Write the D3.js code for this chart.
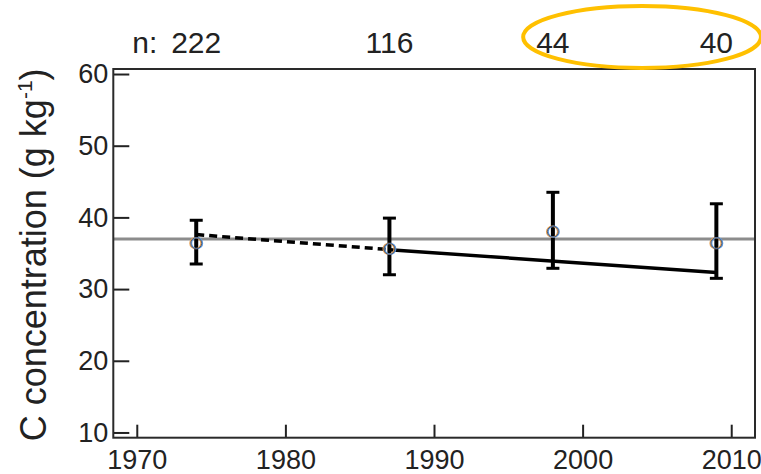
<!DOCTYPE html>
<html>
<head>
<meta charset="utf-8">
<script src="https://cdn.jsdelivr.net/npm/d3@7/dist/d3.min.js"></script>
<style>
  html, body { margin: 0; padding: 0; background: #fff; }
  svg { display: block; font-family: "Liberation Sans", Arial, sans-serif; }
</style>
</head>
<body>
<svg id="chart" width="761" height="474"></svg>
<script>
// Sampling years, sample counts and C concentration (g kg-1)
const years = [1974, 1987, 1998, 2009];
const counts = [222, 116, 44, 40];
const means = [36.4, 35.6, 38.0, 36.4];
const upper = [39.6, 39.9, 43.5, 41.9];
const lower = [33.5, 32.0, 32.9, 31.5];

// Reference level and fitted trend segments
const referenceLevel = 37.0;
const trendDashed = [[1974, 37.6], [1987, 35.5]];
const trendSolid = [[1987, 35.5], [2009, 32.3]];

// Axis ticks
const xTicks = [1970, 1980, 1990, 2000, 2010];
const yTicks = [10, 20, 30, 40, 50, 60];

// Highlighted span of the sample-count row
const highlightYears = [1996, 2012];

const svg = d3.select("#chart");

const x = d3.scaleLinear().domain([1968.42, 2011.6]).range([113.3, 755]);
const y = d3.scaleLinear().domain([9.27, 60.7]).range([437.7, 69]);

const [x0, x1] = x.range();
const [y0, y1] = y.range();

// Reference line
svg.append("line")
  .attr("x1", x0).attr("x2", x1)
  .attr("y1", y(referenceLevel)).attr("y2", y(referenceLevel))
  .attr("stroke", "#8c8c8c").attr("stroke-width", 3);

// Axes with inward ticks
const xAxis = svg.append("g")
  .attr("transform", `translate(0,${y0})`)
  .call(d3.axisBottom(x).tickValues(xTicks).tickFormat(d3.format("d"))
    .tickSizeInner(-13).tickSizeOuter(0).tickPadding(6));
xAxis.select(".domain").remove();
xAxis.selectAll(".tick line").attr("stroke", "#222").attr("stroke-width", 2);
xAxis.selectAll(".tick text")
  .attr("y", 12)
  .attr("font-size", 27).attr("fill", "#222")
  .attr("font-family", "Liberation Sans, Arial, sans-serif");

const yAxis = svg.append("g")
  .attr("transform", `translate(${x0},0)`)
  .call(d3.axisLeft(y).tickValues(yTicks).tickFormat(d3.format("d"))
    .tickSizeInner(-16).tickSizeOuter(0).tickPadding(5));
yAxis.select(".domain").remove();
yAxis.selectAll(".tick line").attr("stroke", "#222").attr("stroke-width", 2);
yAxis.selectAll(".tick text")
  .attr("x", -5)
  .attr("font-size", 27).attr("fill", "#222")
  .attr("font-family", "Liberation Sans, Arial, sans-serif");

// Frame
svg.append("rect")
  .attr("x", x0).attr("y", y1)
  .attr("width", x1 - x0).attr("height", y0 - y1)
  .attr("fill", "none").attr("stroke", "#2a2a2a").attr("stroke-width", 2);

// Trend lines
const line = d3.line().x(d => x(d[0])).y(d => y(d[1]));
svg.append("path")
  .attr("d", line(trendDashed))
  .attr("fill", "none").attr("stroke", "#000")
  .attr("stroke-width", 3.5).attr("stroke-dasharray", "8,5");
svg.append("path")
  .attr("d", line(trendSolid))
  .attr("fill", "none").attr("stroke", "#000")
  .attr("stroke-width", 3.5);

// Error bars
const bars = svg.append("g");
years.forEach((yr, i) => {
  const cx = x(yr);
  bars.append("line")
    .attr("x1", cx).attr("x2", cx)
    .attr("y1", y(upper[i])).attr("y2", y(lower[i]))
    .attr("stroke", "#000").attr("stroke-width", 4);
  [upper[i], lower[i]].forEach(v => {
    bars.append("line")
      .attr("x1", cx - 6.5).attr("x2", cx + 6.5)
      .attr("y1", y(v)).attr("y2", y(v))
      .attr("stroke", "#000").attr("stroke-width", 3);
  });
});

// Mean markers (open circles)
const marks = svg.append("g");
years.forEach((yr, i) => {
  const cx = x(yr), cy = y(means[i]);
  marks.append("circle").attr("cx", cx - 0.8).attr("cy", cy).attr("r", 5.5)
    .attr("fill", "none").attr("stroke", "#e8a050").attr("stroke-width", 1.3);
  marks.append("circle").attr("cx", cx + 0.8).attr("cy", cy).attr("r", 5.5)
    .attr("fill", "none").attr("stroke", "#5a9ae0").attr("stroke-width", 1.3);
  marks.append("circle").attr("cx", cx).attr("cy", cy).attr("r", 5.5)
    .attr("fill", "none").attr("stroke", "#555a70").attr("stroke-width", 1);
});

// Sample counts above the plot
const countRow = svg.append("g")
  .attr("font-size", 30).attr("fill", "#222");
countRow.selectAll("text.count")
  .data(years)
  .join("text")
  .attr("class", "count")
  .attr("x", d => x(d))
  .attr("y", 53)
  .attr("text-anchor", "middle")
  .text((d, i) => counts[i]);
countRow.append("text")
  .attr("x", x(years[0]) - 64)
  .attr("y", 53)
  .text("n:");

// Highlight ring around the later counts
const hx0 = x(highlightYears[0]), hx1 = x(highlightYears[1]);
svg.append("ellipse")
  .attr("cx", (hx0 + hx1) / 2).attr("cy", 37)
  .attr("rx", (hx1 - hx0) / 2).attr("ry", 31)
  .attr("fill", "none").attr("stroke", "#FFC000").attr("stroke-width", 4);

// Y axis title
const title = svg.append("text")
  .attr("transform", `translate(46,${(y0 + 72) / 2}) rotate(-90)`)
  .attr("text-anchor", "middle")
  .attr("font-size", 36).attr("fill", "#222");
title.append("tspan").text("C concentration (g kg");
title.append("tspan").attr("font-size", 21).attr("dy", -14).text("-1");
title.append("tspan").attr("dy", 14).text(")");
</script>
</body>
</html>
